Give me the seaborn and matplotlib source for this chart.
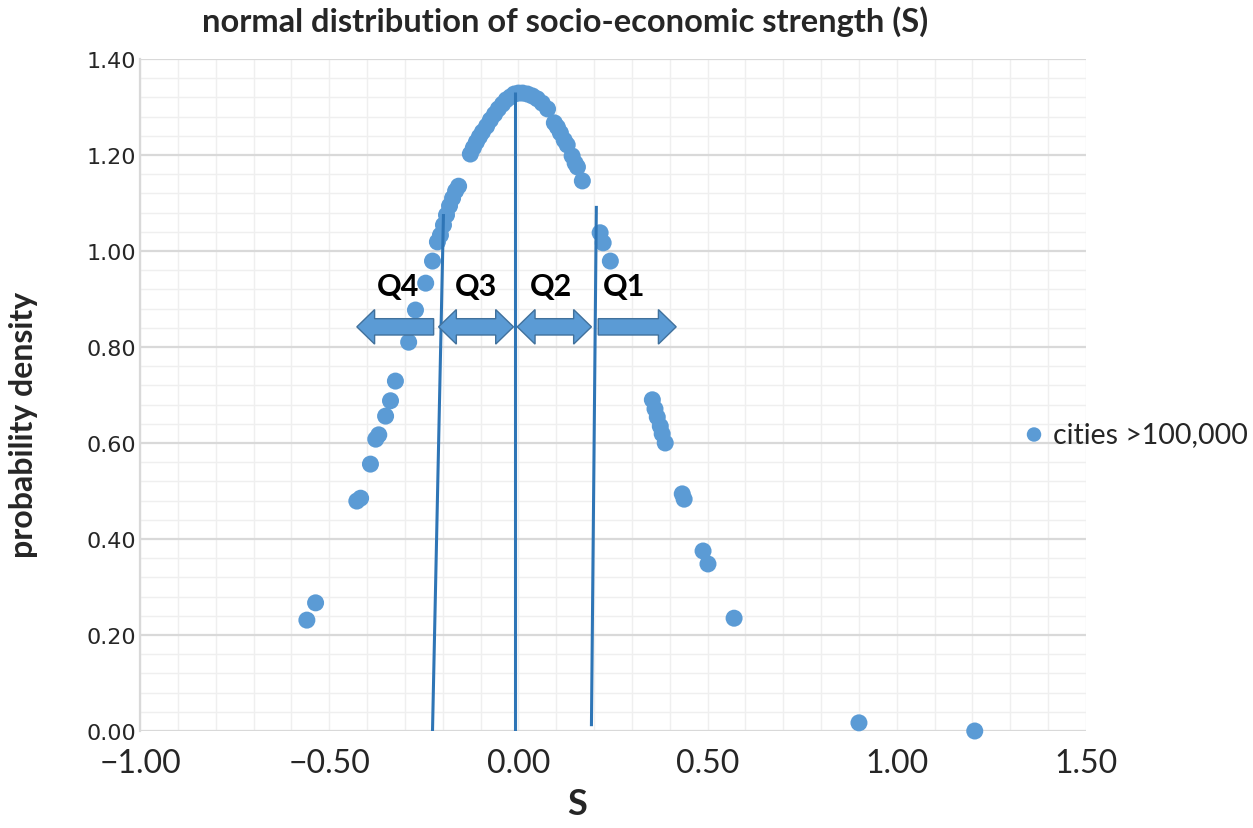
#!/usr/bin/env python3
"""Scatter of the normal density of socio-economic strength (S) for cities
with more than 100,000 inhabitants, split into quartiles Q1-Q4.
"""

import matplotlib as mpl
import matplotlib.pyplot as plt
import numpy as np
import pandas as pd
import seaborn as sns
from matplotlib.patches import Polygon

mpl.use('Agg')

# Values
s_values = [-0.559, -0.536, -0.427, -0.417, -0.391, -0.377, -0.369, -0.351,
            -0.338, -0.325, -0.290, -0.272, -0.245, -0.227, -0.214, -0.206,
            -0.198, -0.190, -0.182, -0.174, -0.166, -0.158,
            -0.127, -0.119, -0.111, -0.103, -0.095, -0.084, -0.074, -0.063,
            -0.053, -0.042, -0.032, -0.021, -0.011, 0.000, 0.011, 0.024,
            0.037, 0.050, 0.063, 0.077, 0.095, 0.103, 0.111, 0.121, 0.129,
            0.142, 0.150, 0.156, 0.169,
            0.216, 0.224, 0.243,
            0.354, 0.361, 0.367, 0.375, 0.380, 0.388, 0.433, 0.438, 0.488,
            0.501, 0.570, 0.900, 1.206]
density = [0.231, 0.267, 0.479, 0.485, 0.556, 0.608, 0.617, 0.656,
           0.688, 0.729, 0.810, 0.877, 0.933, 0.979, 1.019, 1.033,
           1.054, 1.075, 1.094, 1.110, 1.125, 1.135,
           1.202, 1.215, 1.227, 1.238, 1.248, 1.260, 1.273, 1.285,
           1.296, 1.306, 1.315, 1.321, 1.327, 1.329, 1.329, 1.327,
           1.323, 1.317, 1.308, 1.296, 1.267, 1.258, 1.246, 1.231, 1.221,
           1.198, 1.183, 1.175, 1.146,
           1.038, 1.017, 0.979,
           0.690, 0.671, 0.654, 0.635, 0.619, 0.600, 0.494, 0.483, 0.375,
           0.348, 0.235, 0.017, 0.000]

# quartile boundary lines (hand drawn in the original, slightly slanted)
bound_x0 = [-0.227, -0.008, 0.193]
bound_x1 = [-0.198, -0.008, 0.206]
bound_y0 = [0.0, 0.0, 0.010]
bound_y1 = [1.077, 1.331, 1.094]

# quartile arrows and labels
q_labels = ["Q4", "Q3", "Q2", "Q1"]
q_label_x = [-0.319, -0.111, 0.087, 0.280]
arrow_left = [-0.427, -0.211, -0.003, 0.211]
arrow_right = [-0.224, -0.013, 0.193, 0.417]
arrow_heads = ["left", "both", "both", "right"]
arrow_y = 0.842
label_y = 0.927

x_ticks = [-1.0, -0.5, 0.0, 0.5, 1.0, 1.5]
y_ticks = [0.0, 0.2, 0.4, 0.6, 0.8, 1.0, 1.2, 1.4]

POINT_COLOR = "#5B9BD5"
LINE_COLOR = "#2E75B6"
EDGE_COLOR = "#41719C"

sns.set_theme(style="white")
plt.rcParams["font.family"] = ["Lato", "DejaVu Sans"]


def draw_arrow(ax, left, right, head, body=0.034, head_w=0.072, head_l=0.047):
    """Draw a block arrow (one or two heads) between left and right."""
    y, b, h = arrow_y, body / 2, head_w / 2
    if head in ("left", "both"):
        lpts = [(left + head_l, y - b), (left + head_l, y - h), (left, y),
                (left + head_l, y + h), (left + head_l, y + b)]
    else:
        lpts = [(left, y - b), (left, y + b)]
    if head in ("right", "both"):
        rpts = [(right - head_l, y + b), (right - head_l, y + h), (right, y),
                (right - head_l, y - h), (right - head_l, y - b)]
    else:
        rpts = [(right, y + b), (right, y - b)]
    ax.add_patch(Polygon(lpts + rpts, closed=True, facecolor=POINT_COLOR,
                         edgecolor=EDGE_COLOR, linewidth=1.0, zorder=5))


def main():
    df = pd.DataFrame({"S": s_values, "density": density})

    fig = plt.figure(figsize=(12.53, 8.29), dpi=100)
    ax = fig.add_axes([140 / 1253, 1 - 732 / 829, 946 / 1253, 672 / 829])

    sns.scatterplot(data=df, x="S", y="density", ax=ax, color=POINT_COLOR,
                    s=150, edgecolor="none", clip_on=False, zorder=3,
                    label="cities >100,000")

    for x0, x1, y0, y1 in zip(bound_x0, bound_x1, bound_y0, bound_y1):
        ax.plot([x0, x1], [y0, y1], color=LINE_COLOR, linewidth=2.2,
                zorder=4, solid_capstyle="butt")

    for left, right, head in zip(arrow_left, arrow_right, arrow_heads):
        draw_arrow(ax, left, right, head)
    for lab, x in zip(q_labels, q_label_x):
        ax.text(x, label_y, lab, ha="center", va="center", fontsize=22,
                fontweight="bold", color="black", zorder=6)

    ax.set_xlim(-1.0, 1.5)
    ax.set_ylim(0.0, 1.4)
    ax.set_xticks(x_ticks)
    ax.set_xticks(np.arange(-1.0, 1.51, 0.1), minor=True)
    ax.set_yticks(y_ticks)
    ax.set_yticks(np.arange(0.0, 1.41, 0.04), minor=True)
    ax.set_xticklabels([f"{t:.2f}".replace("-", "\u2212") for t in x_ticks],
                       fontsize=23)
    ax.set_yticklabels([f"{t:.2f}" for t in y_ticks], fontsize=16,
                       fontfamily="DejaVu Sans")
    ax.tick_params(which="both", length=0)
    ax.tick_params(axis="x", pad=12)
    ax.tick_params(axis="y", pad=3)

    ax.grid(which="minor", color="#EFEFEF", linewidth=1.0)
    ax.grid(which="major", axis="x", color="#EFEFEF", linewidth=1.0)
    ax.grid(which="major", axis="y", color="#D9D9D9", linewidth=1.6)
    ax.set_axisbelow(True)
    for side in ["top", "right", "bottom"]:
        ax.spines[side].set_visible(False)
    ax.spines["left"].set_color("#D9D9D9")
    ax.spines["left"].set_linewidth(1.6)

    ax.set_xlabel("S", fontsize=26, fontweight="bold")
    ax.set_ylabel("probability density", fontsize=23, fontweight="bold")
    ax.xaxis.set_label_coords((577 - 140) / 946, (732 - 788) / 672)
    ax.yaxis.set_label_coords((38 - 140) / 946, 0.457)

    fig.text(565 / 1253, 1 - 22 / 829,
             "normal distribution of socio-economic strength (S)",
             ha="center", va="center", fontsize=23.5, fontweight="bold")

    ax.legend(loc="center left", bbox_to_anchor=(0.93, 0.442), frameon=False,
              fontsize=20.5, handletextpad=0.15, markerscale=0.85,
              borderaxespad=0, borderpad=0, handlelength=1.0)

    fig.savefig("out.png", dpi=100)


if __name__ == '__main__':
    main()
